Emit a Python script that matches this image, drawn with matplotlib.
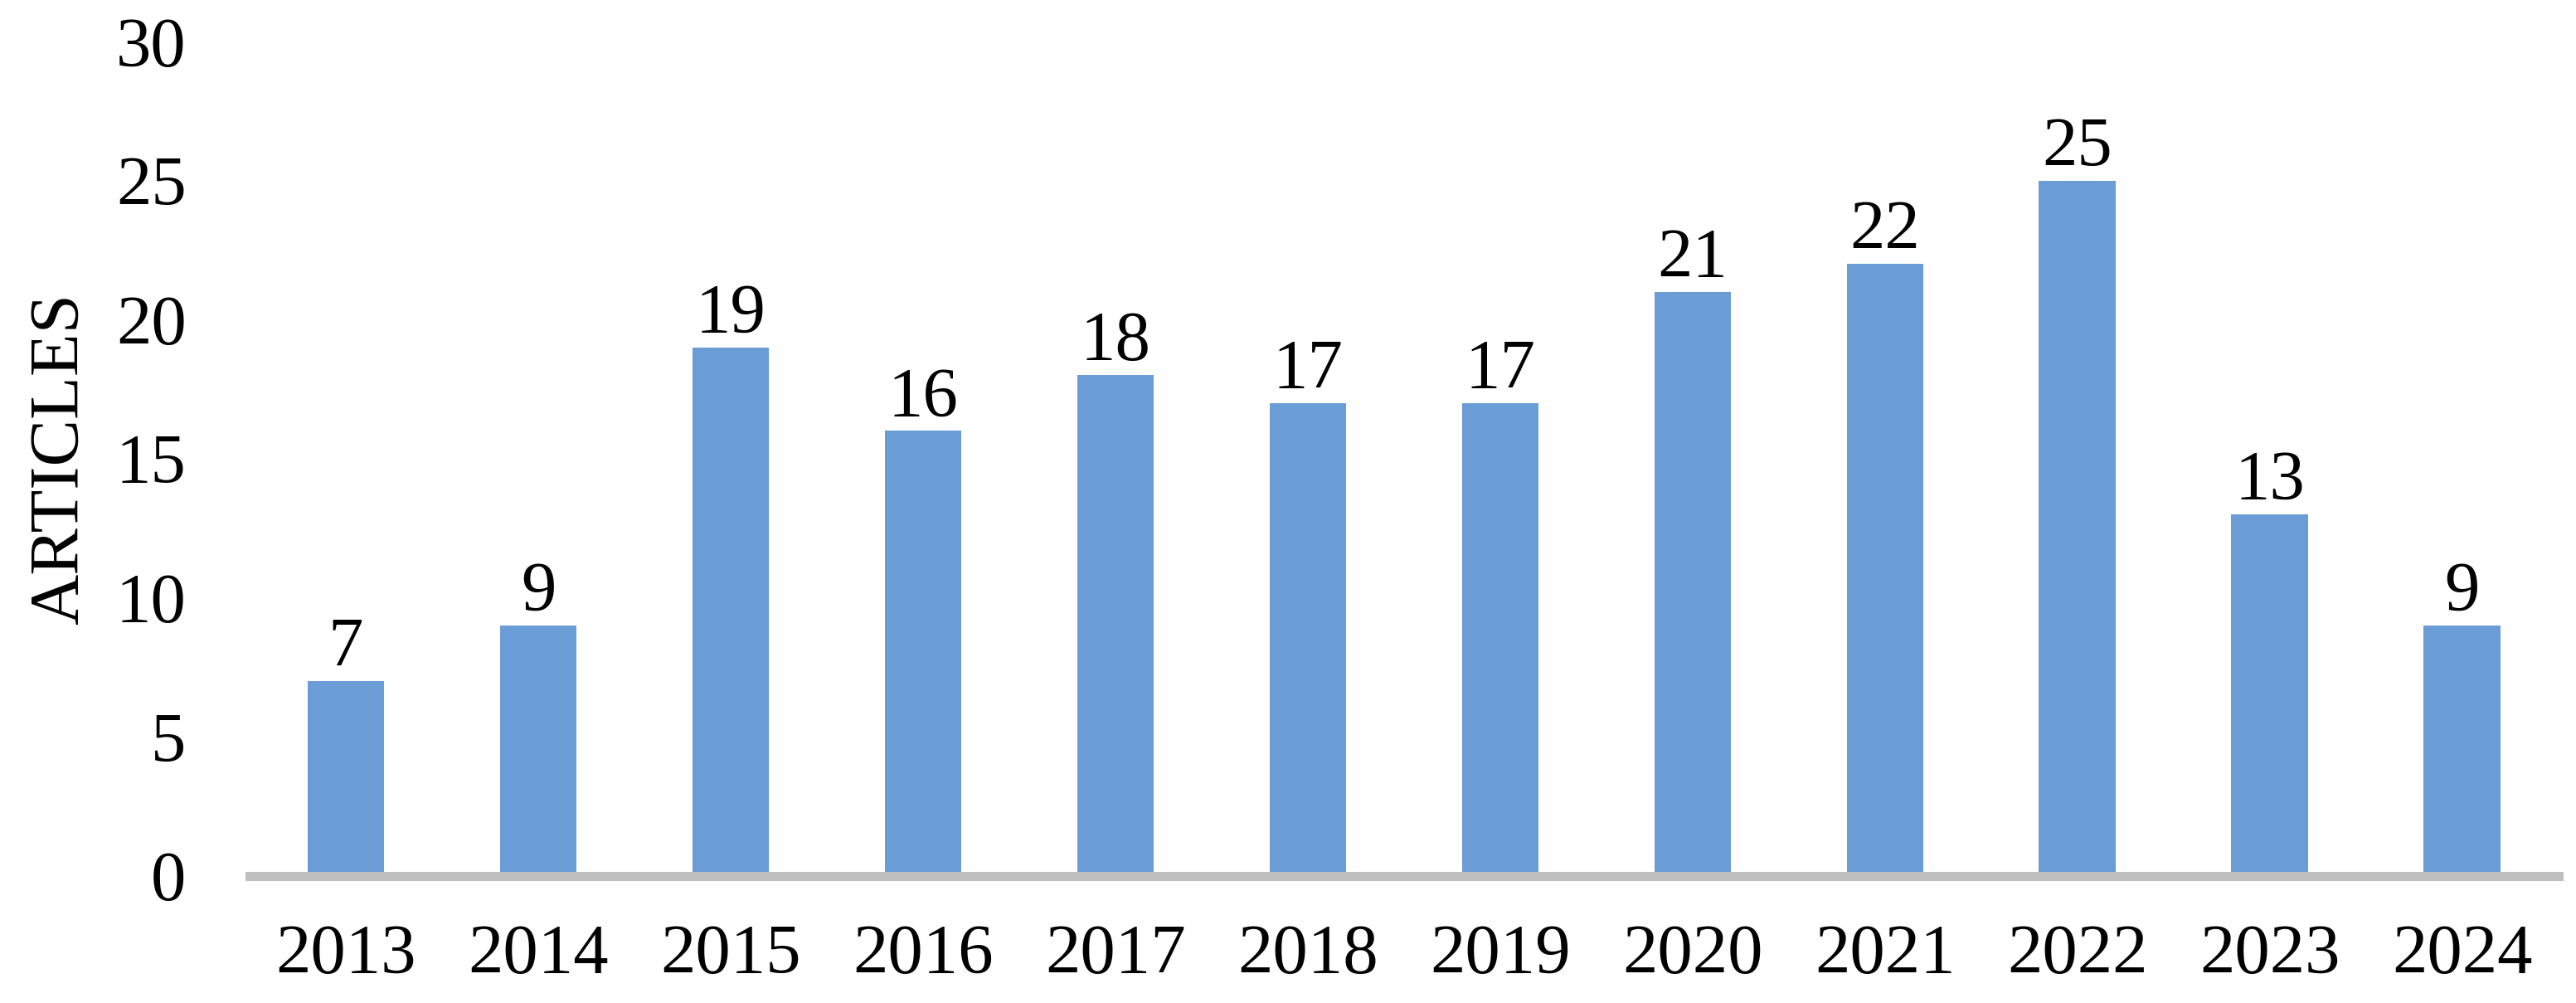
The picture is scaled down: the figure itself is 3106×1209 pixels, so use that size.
import matplotlib
matplotlib.use("Agg")
import matplotlib.pyplot as plt

# -*- data
years = ["2013", "2014", "2015", "2016", "2017", "2018",
         "2019", "2020", "2021", "2022", "2023", "2024"]
articles = [7, 9, 19, 16, 18, 17, 17, 21, 22, 25, 13, 9]
yticks = [0, 5, 10, 15, 20, 25, 30]

plt.rcParams["font.family"] = ["Liberation Serif", "DejaVu Serif"]
fs = 61

fig = plt.figure(figsize=(31.06, 12.09), dpi=100)
ax = fig.add_axes([0.0969, 0.1266, 0.8963, 0.832])

x = range(len(years))
ax.bar(x, articles, width=0.4, color="#6A9CD6", zorder=2)

# Werte über den Balken
for xi, v in zip(x, articles):
    ax.annotate(str(v), (xi, v), xytext=(0, 0), textcoords="offset points",
                ha="center", va="bottom", fontsize=fs)

ax.set_xlim(-0.5, len(years) - 0.5)
ax.set_ylim(0, 30)
ax.set_xticks(list(x))
ax.set_xticklabels(years)
ax.set_yticks(yticks)
ax.tick_params(axis="both", length=0, labelsize=fs)
ax.tick_params(axis="y", pad=55)
ax.tick_params(axis="x", pad=42)

for s in ["top", "right", "left"]:
    ax.spines[s].set_visible(False)
ax.spines["bottom"].set_color("#BFBFBF")
ax.spines["bottom"].set_linewidth(8)
ax.spines["bottom"].set_zorder(3)

ax.set_ylabel("ARTICLES", fontsize=fs)
ax.yaxis.set_label_coords(-0.068, 0.5)

fig.savefig("out.png", dpi=100)
